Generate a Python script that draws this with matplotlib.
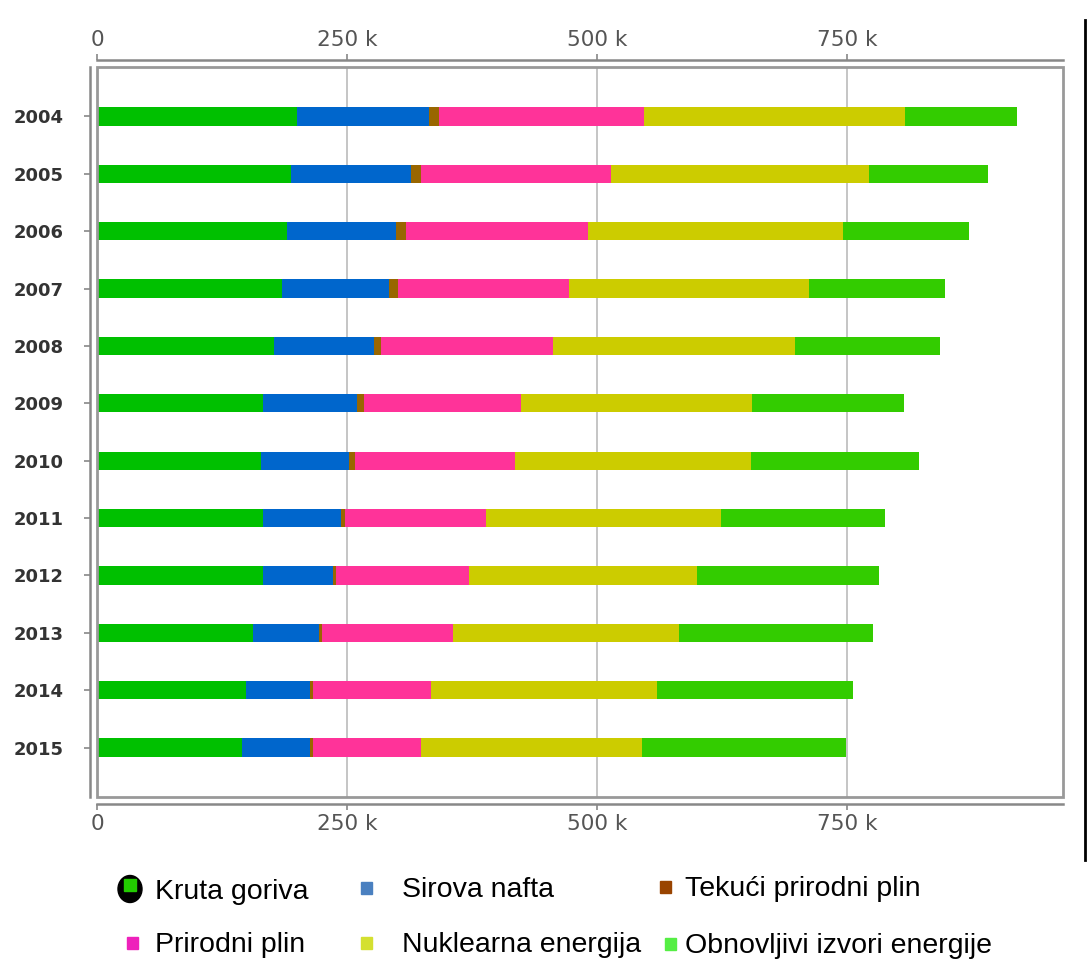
import matplotlib
matplotlib.use("Agg")
import matplotlib.pyplot as plt
import numpy as np
from matplotlib.lines import Line2D
from matplotlib.patches import Rectangle, Ellipse
from matplotlib.ticker import FuncFormatter

# Data (thousands)
years = ["2004", "2005", "2006", "2007", "2008", "2009",
         "2010", "2011", "2012", "2013", "2014", "2015"]
kruta = [200, 194, 190, 185, 177, 166, 164, 166, 166, 156, 149, 145]
nafta = [132, 120, 109, 107, 100, 94, 88, 78, 70, 66, 64, 68]
tekuci = [10, 10, 10, 9, 7, 7, 6, 4, 3, 3, 3, 3]
plin = [205, 190, 182, 171, 172, 157, 160, 141, 133, 131, 118, 108]
nuklearna = [261, 258, 255, 240, 242, 231, 236, 235, 228, 226, 226, 221]
obnovljivi = [112, 119, 126, 136, 145, 152, 168, 164, 182, 194, 196, 204]

series = [kruta, nafta, tekuci, plin, nuklearna, obnovljivi]
names = ["Kruta goriva", "Sirova nafta", "Tekući prirodni plin",
         "Prirodni plin", "Nuklearna energija", "Obnovljivi izvori energije"]
bar_colors = ["#00C000", "#0066CC", "#996600", "#FF3399", "#CCCC00", "#33CC00"]
legend_colors = ["#22CC00", "#4A80C0", "#994400", "#EE22BB", "#D4E030", "#55EE44"]

W, H = 1088, 960
fig = plt.figure(figsize=(W / 100, H / 100), dpi=100)
ax = fig.add_axes([97 / W, 1 - 797 / H, (1063 - 97) / W, (797 - 67) / H])

y = np.arange(len(years))
left = np.zeros(len(years))
for vals, col in zip(series, bar_colors):
    v = np.array(vals) * 1000.0
    ax.barh(y, v, left=left, height=0.32, color=col, edgecolor="none", zorder=3)
    left += v

ax.set_xlim(0, 966000)
ax.set_ylim(len(years) - 1 + 0.86, -0.86)
ax.set_yticks(y)
ax.set_yticklabels(years)
ax.set_xticks([0, 250000, 500000, 750000])
ax.xaxis.set_major_formatter(FuncFormatter(lambda v, p: "0" if v == 0 else f"{int(v / 1000)} k"))

# vertical grid
for gx in [250000, 500000, 750000]:
    ax.axvline(gx, color="#bbbbbb", lw=1.2, zorder=1)

# outer axis lines, offset from the box
for side in ["top", "bottom", "left"]:
    ax.spines[side].set_position(("outward", 5))
    ax.spines[side].set_color("#888888")
    ax.spines[side].set_linewidth(1.8)
ax.spines["right"].set_visible(False)

# the box
ax.add_patch(Rectangle((0, 0), 1, 1, transform=ax.transAxes, fill=False,
                       edgecolor="#999999", lw=2, clip_on=False, zorder=4))

ax.tick_params(axis="x", which="both", top=True, labeltop=True, bottom=True,
               labelbottom=True, direction="out", length=4, width=1.2,
               color="#888888", labelcolor="#555555", labelsize=15.5, pad=3)
ax.tick_params(axis="y", direction="out", length=4, width=1.2, color="#888888",
               labelcolor="#333333", labelsize=13, pad=15)
for lab in ax.get_yticklabels():
    lab.set_fontweight("bold")

# right black line
fig.add_artist(Line2D([1085 / W, 1085 / W], [1 - 20 / H, 1 - 860 / H],
                      color="black", lw=2))

# legend drawn by hand
pos = [(130, 890, 155), (366, 888, 402), (665, 887, 685),
       (132, 943, 155), (366, 943, 402), (670, 944, 685)]
for i, (mx, my, tx) in enumerate(pos):
    fx, fy = mx / W, 1 - my / H
    if i == 0:
        fig.add_artist(Ellipse((fx, fy + 1 / H), 24 / W, 27 / H, color="black"))
        fig.add_artist(Rectangle((fx - 6 / W, fy - 1 / H), 12 / W, 12 / H,
                                 color=legend_colors[0]))
    else:
        fig.add_artist(Rectangle((fx - 5 / W, fy - 6 / H), 11 / W, 12 / H,
                                 color=legend_colors[i]))
    fig.text(tx / W, 1 - (my + 2) / H, names[i], fontsize=20.5,
             family="Liberation Sans", va="center", ha="left", color="black")

fig.savefig("out.png", dpi=100)
